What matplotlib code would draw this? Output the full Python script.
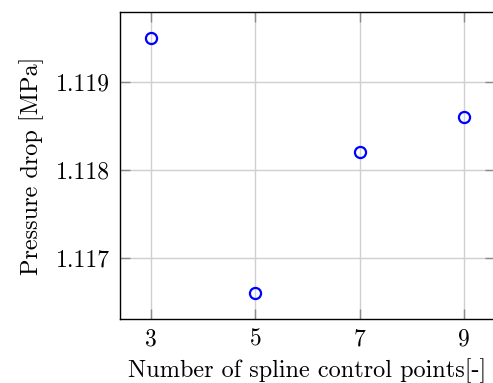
import matplotlib
matplotlib.use("Agg")
import matplotlib.pyplot as plt

control_points = [3, 5, 7, 9]
pressure_drop = [1.1195, 1.1166, 1.1182, 1.1186]
x_ticks = [3, 5, 7, 9]
y_ticks = [1.117, 1.118, 1.119]

plt.rcParams["font.family"] = "serif"
plt.rcParams["font.serif"] = ["cmr10", "DejaVu Serif"]
plt.rcParams["mathtext.fontset"] = "cm"
plt.rcParams["axes.unicode_minus"] = False

fig = plt.figure(figsize=(4.93, 3.83), dpi=100)
ax = fig.add_axes([0.2434, 0.1671, 0.7606, 0.8016])

ax.plot(control_points, pressure_drop, linestyle="none", marker="o",
        markersize=8, markerfacecolor="none", markeredgecolor="blue",
        markeredgewidth=1.6, zorder=3, clip_on=False)

ax.set_xlim(2.4, 9.6)
ax.set_ylim(1.11631, 1.11979)
ax.set_xticks(x_ticks)
ax.set_yticks(y_ticks)
ax.set_xticklabels([str(v) for v in x_ticks])
ax.set_yticklabels([f"{v:.3f}" for v in y_ticks])

ax.grid(True, color="#d0d0d0", linewidth=1.0)
ax.set_axisbelow(True)
ax.tick_params(direction="in", length=7.5, width=1.0, color="#8a8a8a",
               top=True, right=True, labelsize=17, pad=7)
for s in ax.spines.values():
    s.set_linewidth(1.0)
    s.set_color("black")

ax.set_xlabel("Number of spline control points[-]", fontsize=17.5, labelpad=5.5)
ax.set_ylabel("Pressure drop [MPa]", fontsize=17.5, labelpad=9)

fig.savefig("out.png", dpi=100)
